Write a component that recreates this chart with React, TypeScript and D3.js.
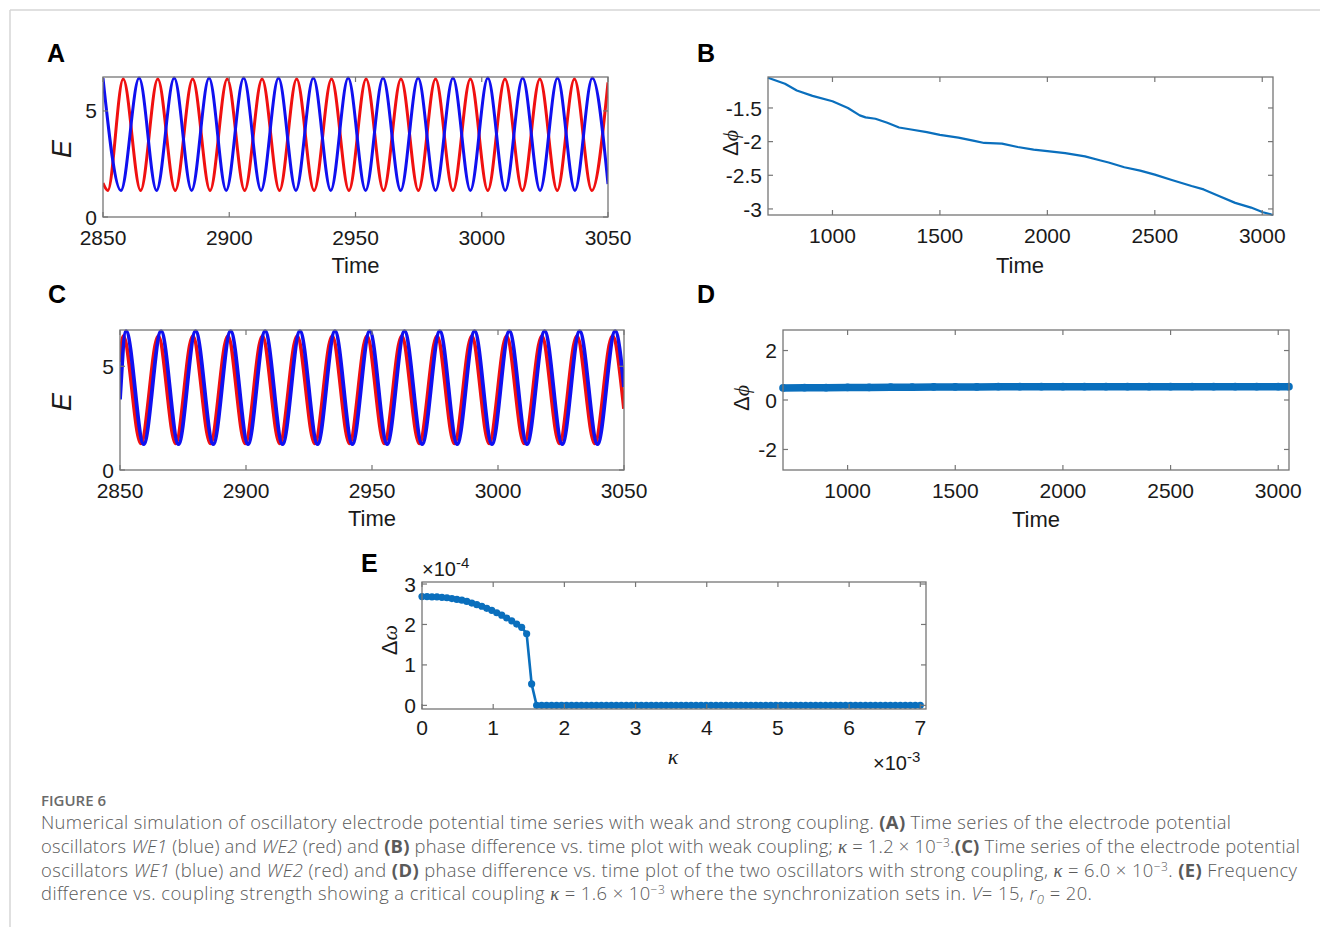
import React from "react";
import * as d3 from "d3";

// ---------- Panel A (weak coupling time series): extrema ----------
const aBlueTimes = [2850.0, 2857.1, 2864.3, 2871.2, 2878.2, 2885.1, 2892.0, 2898.8, 2905.7, 2912.6, 2919.5, 2926.4, 2933.3, 2940.2, 2947.1, 2954.0, 2960.9, 2967.9, 2974.8, 2981.7, 2988.6, 2995.5, 3002.4, 3009.3, 3016.2, 3023.1, 3030.0, 3036.9, 3043.8, 3050.0];
const aBlueValues = [6.55, 1.25, 6.55, 1.25, 6.55, 1.25, 6.55, 1.25, 6.55, 1.25, 6.55, 1.25, 6.55, 1.25, 6.55, 1.25, 6.55, 1.25, 6.55, 1.25, 6.55, 1.25, 6.55, 1.25, 6.55, 1.25, 6.55, 1.25, 6.55, 1.55];
const aRedTimes = [2850.0, 2851.9, 2858.0, 2864.9, 2871.7, 2878.6, 2885.5, 2892.4, 2899.2, 2906.1, 2913.0, 2919.9, 2926.7, 2933.6, 2940.5, 2947.4, 2954.2, 2961.1, 2968.0, 2974.9, 2981.7, 2988.6, 2995.5, 3002.4, 3009.2, 3016.1, 3023.0, 3029.9, 3036.7, 3043.6, 3050.0];
const aRedValues = [1.6, 1.25, 6.5, 1.25, 6.5, 1.25, 6.5, 1.25, 6.5, 1.25, 6.5, 1.25, 6.5, 1.25, 6.5, 1.25, 6.5, 1.25, 6.5, 1.25, 6.5, 1.25, 6.5, 1.25, 6.5, 1.25, 6.5, 1.25, 6.5, 1.25, 6.35];

// ---------- Panel C (strong coupling time series) ----------
const cBlueTimes = [2850.0, 2852.4, 2859.4, 2866.3, 2873.2, 2880.0, 2887.0, 2893.9, 2900.8, 2907.6, 2914.5, 2921.4, 2928.4, 2935.3, 2942.2, 2949.1, 2956.0, 2962.9, 2969.9, 2976.9, 2983.8, 2990.7, 2997.6, 3004.5, 3011.5, 3018.5, 3025.5, 3032.4, 3039.5, 3046.5, 3050.0];
const cBlueValues = [3.4, 6.7, 1.25, 6.7, 1.25, 6.7, 1.25, 6.7, 1.25, 6.7, 1.25, 6.7, 1.25, 6.7, 1.25, 6.7, 1.25, 6.7, 1.25, 6.7, 1.25, 6.7, 1.25, 6.7, 1.25, 6.7, 1.25, 6.7, 1.25, 6.7, 4.0];
const cRedTimes = [2850.0, 2851.3, 2858.3, 2865.2, 2872.1, 2878.9, 2885.9, 2892.8, 2899.7, 2906.5, 2913.4, 2920.3, 2927.3, 2934.2, 2941.1, 2948.0, 2954.9, 2961.8, 2968.8, 2975.8, 2982.7, 2989.6, 2996.5, 3003.4, 3010.4, 3017.4, 3024.4, 3031.3, 3038.4, 3045.4, 3050.0];
const cRedValues = [5.2, 6.45, 1.28, 6.45, 1.28, 6.45, 1.28, 6.45, 1.28, 6.45, 1.28, 6.45, 1.28, 6.45, 1.28, 6.45, 1.28, 6.45, 1.28, 6.45, 1.28, 6.45, 1.28, 6.45, 1.28, 6.45, 1.28, 6.45, 1.28, 6.45, 2.95];

// ---------- Panel B (phase difference, weak coupling) ----------
const bTimes = [700, 779, 834, 907, 1000, 1072, 1127, 1154, 1200, 1255, 1310, 1366, 1439, 1500, 1586, 1660, 1706, 1789, 1862, 1936, 2000, 2083, 2175, 2248, 2285, 2358, 2432, 2500, 2579, 2671, 2727, 2801, 2874, 2948, 3003, 3050];
const bPhase = [-1.05, -1.14, -1.24, -1.32, -1.4, -1.5, -1.61, -1.64, -1.66, -1.72, -1.79, -1.82, -1.86, -1.9, -1.94, -1.99, -2.02, -2.03, -2.08, -2.12, -2.14, -2.17, -2.22, -2.28, -2.31, -2.38, -2.43, -2.49, -2.57, -2.66, -2.71, -2.81, -2.91, -2.98, -3.05, -3.09];

// ---------- Panel D (phase difference, strong coupling) ----------
const dTimes = [700, 800, 900, 1000, 1100, 1200, 1300, 1400, 1500, 1600, 1700, 1800, 1900, 2000, 2100, 2200, 2300, 2400, 2500, 2600, 2700, 2800, 2900, 3000, 3050];
const dPhase = [0.49, 0.5, 0.5, 0.51, 0.51, 0.52, 0.52, 0.53, 0.53, 0.53, 0.54, 0.54, 0.54, 0.54, 0.54, 0.54, 0.54, 0.54, 0.54, 0.54, 0.54, 0.54, 0.54, 0.54, 0.54];

// ---------- Panel E (frequency difference vs coupling) ----------
const eKappa = [0, 0.07, 0.14, 0.21, 0.28, 0.35, 0.42, 0.49, 0.56, 0.63, 0.7, 0.77, 0.84, 0.91, 0.98, 1.05, 1.12, 1.19, 1.26, 1.33, 1.4, 1.47, 1.54, 1.61, 1.68, 1.75, 1.82, 1.89, 1.96, 2.03, 2.1, 2.17, 2.24, 2.31, 2.38, 2.45, 2.52, 2.59, 2.66, 2.73, 2.8, 2.87, 2.94, 3.01, 3.08, 3.15, 3.22, 3.29, 3.36, 3.43, 3.5, 3.57, 3.64, 3.71, 3.78, 3.85, 3.92, 3.99, 4.06, 4.13, 4.2, 4.27, 4.34, 4.41, 4.48, 4.55, 4.62, 4.69, 4.76, 4.83, 4.9, 4.97, 5.04, 5.11, 5.18, 5.25, 5.32, 5.39, 5.46, 5.53, 5.6, 5.67, 5.74, 5.81, 5.88, 5.95, 6.02, 6.09, 6.16, 6.23, 6.3, 6.37, 6.44, 6.51, 6.58, 6.65, 6.72, 6.79, 6.86, 6.93, 7.0];
const eOmega = [2.69, 2.69, 2.68, 2.68, 2.67, 2.66, 2.64, 2.62, 2.6, 2.57, 2.53, 2.49, 2.45, 2.4, 2.35, 2.29, 2.23, 2.16, 2.09, 2.01, 1.93, 1.77, 0.53,
  0, 0, 0, 0, 0, 0, 0, 0, 0, 0, 0, 0, 0, 0, 0, 0, 0, 0, 0, 0, 0, 0, 0, 0, 0, 0,
  0, 0, 0, 0, 0, 0, 0, 0, 0, 0, 0, 0, 0, 0, 0, 0, 0, 0, 0, 0, 0, 0, 0, 0, 0, 0,
  0, 0, 0, 0, 0, 0, 0, 0, 0, 0, 0, 0, 0, 0, 0, 0, 0, 0, 0, 0, 0, 0, 0, 0, 0, 0,
  0, 0, 0, 0, 0, 0, 0, 0, 0, 0, 0, 0, 0, 0, 0, 0, 0, 0];

// ---------- Tick labels ----------
const timeTicksAC = [2850, 2900, 2950, 3000, 3050];
const eTicksAC = [0, 5];
const timeTicksBD = [1000, 1500, 2000, 2500, 3000];
const phaseTicksB = [-3, -2.5, -2, -1.5];
const phaseTicksD = [-2, 0, 2];
const kappaTicks = [0, 1, 2, 3, 4, 5, 6, 7];
const omegaTicks = [0, 1, 2, 3];

const FONT = "'Liberation Sans', Arial, Helvetica, sans-serif";
const SERIF = "'Liberation Serif', 'Times New Roman', serif";
const BOX = "#767676";
const TXT = "#1a1a1a";
const MATLAB_BLUE = "#0a6fbd";

type Lin = d3.ScaleLinear<number, number>;

function Frame(props: {
  x: Lin; y: Lin; xTicks: number[]; yTicks: number[];
  xOff?: number; fs?: number;
}) {
  const { x, y, xTicks, yTicks } = props;
  const xOff = props.xOff ?? 28;
  const fs = props.fs ?? 21;
  const [x0, x1] = x.range();
  const [y0, y1] = y.range();
  const tl = 5;
  return (
    <g>
      <rect x={x0} y={y1} width={x1 - x0} height={y0 - y1} fill="none" stroke={BOX} strokeWidth={1.3} />
      {xTicks.map((t) => (
        <g key={"x" + t}>
          <line x1={x(t)} x2={x(t)} y1={y0} y2={y0 - tl} stroke={BOX} strokeWidth={1.2} />
          <line x1={x(t)} x2={x(t)} y1={y1} y2={y1 + tl} stroke={BOX} strokeWidth={1.2} />
          <text x={x(t)} y={y0 + xOff} textAnchor="middle" fontSize={fs} fontFamily={FONT} fill={TXT}>{String(t)}</text>
        </g>
      ))}
      {yTicks.map((t) => (
        <g key={"y" + t}>
          <line x1={x0} x2={x0 + tl} y1={y(t)} y2={y(t)} stroke={BOX} strokeWidth={1.2} />
          <line x1={x1} x2={x1 - tl} y1={y(t)} y2={y(t)} stroke={BOX} strokeWidth={1.2} />
          <text x={x0 - 6} y={y(t)} dy="0.36em" textAnchor="end" fontSize={fs} fontFamily={FONT} fill={TXT}>{String(t)}</text>
        </g>
      ))}
    </g>
  );
}

function PanelLabel({ x, y, t }: { x: number; y: number; t: string }) {
  return <text x={x} y={y} fontSize={25} fontWeight="bold" fontFamily={FONT} fill="#000">{t}</text>;
}

function curvePath(x: Lin, y: Lin, ts: number[], vs: number[]) {
  const pts = ts.map((t, i) => [t, vs[i]] as [number, number]);
  return d3.line<[number, number]>().x((d) => x(d[0])).y((d) => y(d[1])).curve(d3.curveMonotoneX)(pts) || "";
}
function linePath(x: Lin, y: Lin, ts: number[], vs: number[]) {
  const pts = ts.map((t, i) => [t, vs[i]] as [number, number]);
  return d3.line<[number, number]>().x((d) => x(d[0])).y((d) => y(d[1]))(pts) || "";
}

function TimeSeriesPanel(props: {
  left: number; right: number; top: number; bottom: number; ymax: number;
  blueT: number[]; blueV: number[]; redT: number[]; redV: number[]; lw: number; clipId: string;
}) {
  const x = d3.scaleLinear().domain([2850, 3050]).range([props.left, props.right]);
  const y = d3.scaleLinear().domain([0, props.ymax]).range([props.bottom, props.top]);
  return (
    <g>
      <clipPath id={props.clipId}>
        <rect x={props.left} y={props.top - 2} width={props.right - props.left} height={props.bottom - props.top + 2} />
      </clipPath>
      <g clipPath={`url(#${props.clipId})`}>
        <path d={curvePath(x, y, props.redT, props.redV)} fill="none" stroke="#f01010" strokeWidth={props.lw} />
        <path d={curvePath(x, y, props.blueT, props.blueV)} fill="none" stroke="#1010f0" strokeWidth={props.lw} />
      </g>
      <Frame x={x} y={y} xTicks={timeTicksAC} yTicks={eTicksAC} />
      <text x={(props.left + props.right) / 2} y={props.bottom + 56} textAnchor="middle" fontSize={22} fontFamily={FONT} fill={TXT}>Time</text>
      <text transform={`translate(71,${(props.top + props.bottom) / 2 + 2}) rotate(-90)`} textAnchor="middle" fontSize={27} fontStyle="italic" fontFamily={FONT} fill={TXT}>E</text>
    </g>
  );
}

function DeltaPhiLabel({ cx, cy }: { cx: number; cy: number }) {
  return (
    <text transform={`translate(${cx},${cy}) rotate(-90)`} textAnchor="middle" fontSize={22} fontFamily={FONT} fill={TXT}>
      Δ<tspan fontFamily={SERIF} fontStyle="italic">ϕ</tspan>
    </text>
  );
}

export default function App() {
  // Panel B
  const bx = d3.scaleLinear().domain([700, 3050]).range([768, 1273]);
  const by = d3.scaleLinear().domain([-3.09, -1.04]).range([215, 77]);
  // Panel D
  const dx = d3.scaleLinear().domain([700, 3050]).range([783, 1289]);
  const dy = d3.scaleLinear().domain([-2.83, 2.83]).range([470, 330]);
  // Panel E
  const ex = d3.scaleLinear().domain([0, 7.08]).range([422, 926]);
  const ey = d3.scaleLinear().domain([-0.09, 3.05]).range([709, 582]);

  return (
    <div style={{ position: "absolute", left: 0, top: 0, width: 1320, height: 927, background: "#fff" }}>
      <svg width={1320} height={927} style={{ display: "block" }}>
        <rect width={1320} height={927} fill="#fff" />
        <line x1={10} x2={1320} y1={10} y2={10} stroke="#d6d6d6" strokeWidth={1.5} />
        <line x1={10} x2={10} y1={10} y2={927} stroke="#d6d6d6" strokeWidth={1.5} />

        {/* Panel A */}
        <PanelLabel x={47} y={62} t="A" />
        <TimeSeriesPanel left={103} right={608} top={77} bottom={217} ymax={6.6}
          blueT={aBlueTimes} blueV={aBlueValues} redT={aRedTimes} redV={aRedValues} lw={3} clipId="clipA" />

        {/* Panel C */}
        <PanelLabel x={48} y={303} t="C" />
        <TimeSeriesPanel left={120} right={624} top={330} bottom={470} ymax={6.75}
          blueT={cBlueTimes} blueV={cBlueValues} redT={cRedTimes} redV={cRedValues} lw={3.8} clipId="clipC" />

        {/* Panel B */}
        <PanelLabel x={697} y={62} t="B" />
        <path d={linePath(bx, by, bTimes, bPhase)} fill="none" stroke={MATLAB_BLUE} strokeWidth={2.2} strokeLinejoin="round" />
        <Frame x={bx} y={by} xTicks={timeTicksBD} yTicks={phaseTicksB} />
        <text x={1020} y={273} textAnchor="middle" fontSize={22} fontFamily={FONT} fill={TXT}>Time</text>
        <DeltaPhiLabel cx={738} cy={143} />

        {/* Panel D */}
        <PanelLabel x={697} y={303} t="D" />
        <path d={linePath(dx, dy, dTimes, dPhase)} fill="none" stroke={MATLAB_BLUE} strokeWidth={7.5} />
        {dTimes.map((t, i) => (
          <circle key={i} cx={dx(t)} cy={dy(dPhase[i])} r={3.8} fill={MATLAB_BLUE} />
        ))}
        <Frame x={dx} y={dy} xTicks={timeTicksBD} yTicks={phaseTicksD} />
        <text x={1036} y={527} textAnchor="middle" fontSize={22} fontFamily={FONT} fill={TXT}>Time</text>
        <DeltaPhiLabel cx={749} cy={398} />

        {/* Panel E */}
        <PanelLabel x={361} y={572} t="E" />
        <path d={linePath(ex, ey, eKappa, eOmega)} fill="none" stroke={MATLAB_BLUE} strokeWidth={2.6} />
        {eKappa.map((k, i) => (
          <circle key={i} cx={ex(k)} cy={ey(eOmega[i])} r={3.6} fill={MATLAB_BLUE} />
        ))}
        <Frame x={ex} y={ey} xTicks={kappaTicks} yTicks={omegaTicks} xOff={26} />
        <text x={422} y={576} fontSize={20} fontFamily={FONT} fill={TXT}>×10<tspan dy={-8} fontSize={15}>-4</tspan></text>
        <text x={873} y={770} fontSize={20} fontFamily={FONT} fill={TXT}>×10<tspan dy={-8} fontSize={15}>-3</tspan></text>
        <text x={673} y={764} textAnchor="middle" fontSize={22} fontStyle="italic" fontFamily={SERIF} fill={TXT}>κ</text>
        <text transform={`translate(397,640) rotate(-90)`} textAnchor="middle" fontSize={22} fontFamily={FONT} fill={TXT}>
          Δ<tspan fontFamily={SERIF} fontStyle="italic">ω</tspan>
        </text>

        {/* Caption */}
        <g fontFamily="'Open Sans', 'Noto Sans', sans-serif" fill="#5a5a5a" fontSize={18.4} fontWeight={300}>
          <text x={41} y={806} fontSize={15} fontWeight={600} fill="#6a6a6a">FIGURE 6</text>
          <text x={41} y={829} textLength={1190} lengthAdjust="spacing">
            Numerical simulation of oscillatory electrode potential time series with weak and strong coupling. <tspan fontWeight="bold">(A)</tspan> Time series of the electrode potential
          </text>
          <text x={41} y={853} textLength={1259} lengthAdjust="spacing">
            oscillators <tspan fontStyle="italic">WE1</tspan> (blue) and <tspan fontStyle="italic">WE2</tspan> (red) and <tspan fontWeight="bold">(B)</tspan> phase difference vs. time plot with weak coupling; <tspan fontFamily={SERIF} fontStyle="italic">κ</tspan> = 1.2 × 10<tspan dy={-6} fontSize={12}>−3</tspan><tspan dy={6}>.</tspan><tspan fontWeight="bold">(C)</tspan> Time series of the electrode potential
          </text>
          <text x={41} y={877} textLength={1256} lengthAdjust="spacing">
            oscillators <tspan fontStyle="italic">WE1</tspan> (blue) and <tspan fontStyle="italic">WE2</tspan> (red) and <tspan fontWeight="bold">(D)</tspan> phase difference vs. time plot of the two oscillators with strong coupling, <tspan fontFamily={SERIF} fontStyle="italic">κ</tspan> = 6.0 × 10<tspan dy={-6} fontSize={12}>−3</tspan><tspan dy={6}>. </tspan><tspan fontWeight="bold">(E)</tspan> Frequency
          </text>
          <text x={41} y={900} textLength={1051} lengthAdjust="spacing">
            difference vs. coupling strength showing a critical coupling <tspan fontFamily={SERIF} fontStyle="italic">κ</tspan> = 1.6 × 10<tspan dy={-6} fontSize={12}>−3</tspan><tspan dy={6}> where the synchronization sets in. </tspan><tspan fontStyle="italic">V</tspan>= 15, <tspan fontStyle="italic">r</tspan><tspan fontStyle="italic" dy={4} fontSize={13}>0</tspan><tspan dy={-4}> = 20.</tspan>
          </text>
        </g>
      </svg>
    </div>
  );
}
